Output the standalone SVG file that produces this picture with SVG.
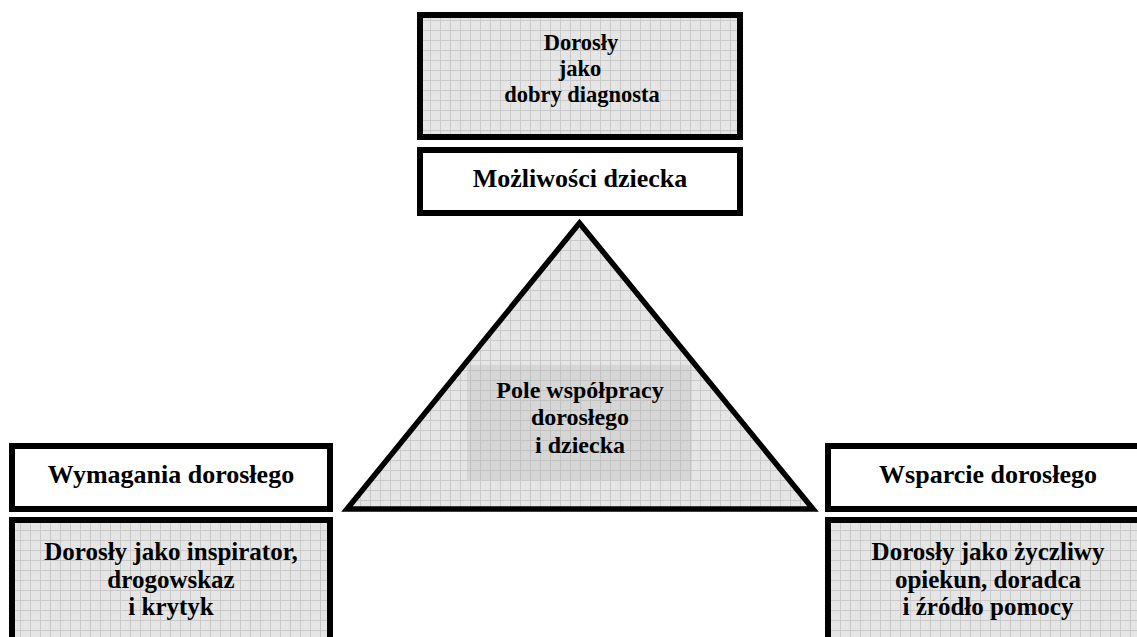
<svg xmlns="http://www.w3.org/2000/svg" width="1137" height="637" viewBox="0 0 1137 637">
<defs>
<pattern id="grid" x="0" y="0" width="10" height="10" patternUnits="userSpaceOnUse">
<rect width="10" height="10" fill="#e5e5e5"/>
<path d="M0 0.5H10M0.5 0V10" stroke="#c9c9c9" stroke-width="1" fill="none"/>
</pattern>
<pattern id="grid2" x="0" y="0" width="10" height="10" patternUnits="userSpaceOnUse">
<rect width="10" height="10" fill="#d6d6d6"/>
<path d="M0 0.5H10M0.5 0V10" stroke="#c2c2c2" stroke-width="1" fill="none"/>
</pattern>
</defs>
<style>
.box{stroke:#000;stroke-width:6;}
.white{fill:#fff;}
.hatch{fill:url(#grid);}
text{font-family:"Liberation Serif","Times New Roman",serif;font-weight:bold;fill:#000;text-anchor:middle;}
.t26{font-size:26px;}
.t25{font-size:25px;}
.t24{font-size:24px;}
.t22{font-size:22.5px;}
</style>
<rect width="1137" height="637" fill="#fff"/>
<g id="connectors"></g>
<g id="diagnosta">
<rect class="box hatch" x="420" y="15" width="320" height="122"/>
<text class="t22" x="581" y="50">Dorosły</text>
<text class="t22" x="580" y="76">jako</text>
<text class="t22" x="582" y="102">dobry diagnosta</text>
</g>
<g id="mozliwosci">
<rect class="box white" x="420" y="150" width="320" height="63"/>
<text class="t26" x="580" y="187">Możliwości dziecka</text>
</g>
<g id="pole">
<polygon points="579.5,223 347,509 813,509" fill="url(#grid)" stroke="#000" stroke-width="5.5" stroke-linejoin="miter"/>
<rect x="467" y="365" width="225" height="115" fill="url(#grid2)"/>
<text class="t24" x="580" y="398">Pole współpracy</text>
<text class="t24" x="580" y="425">dorosłego</text>
<text class="t24" x="580" y="453">i dziecka</text>
</g>
<g id="wymagania">
<rect class="box white" x="12" y="446" width="318" height="63"/>
<text class="t26" x="171" y="483">Wymagania dorosłego</text>
</g>
<g id="inspirator">
<rect class="box hatch" x="12" y="520" width="318" height="130"/>
<text class="t25" x="171" y="560">Dorosły jako inspirator,</text>
<text class="t25" x="171" y="588">drogowskaz</text>
<text class="t25" x="171" y="615">i krytyk</text>
</g>
<g id="wsparcie">
<rect class="box white" x="828" y="446" width="320" height="63"/>
<text class="t26" x="988" y="483">Wsparcie dorosłego</text>
</g>
<g id="opiekun">
<rect class="box hatch" x="828" y="520" width="320" height="130"/>
<text class="t25" x="988" y="560">Dorosły jako życzliwy</text>
<text class="t25" x="988" y="588">opiekun, doradca</text>
<text class="t25" x="988" y="615">i źródło pomocy</text>
</g>
</svg>
